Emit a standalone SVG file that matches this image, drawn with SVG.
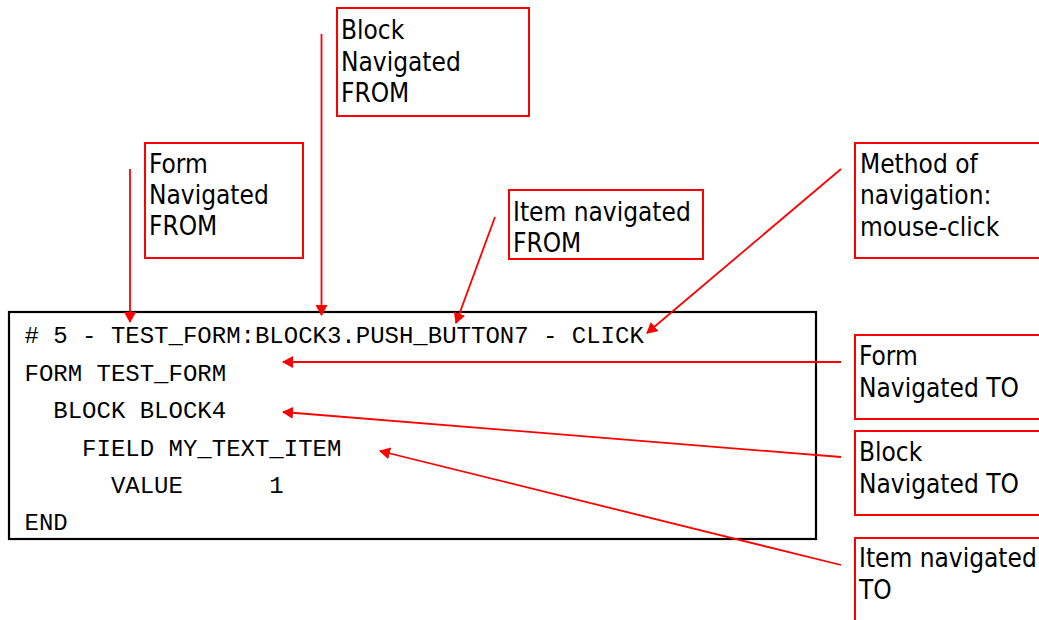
<svg xmlns="http://www.w3.org/2000/svg" width="1039" height="620" viewBox="0 0 1039 620">
  <style>
    .code { font-family: "Liberation Mono", "Courier New", monospace; font-size: 24px; fill: #000; white-space: pre; }
    .codebox { fill: #fff; stroke: #000; stroke-width: 2.2; }
    .label rect { fill: #fff; stroke: #ff0000; stroke-width: 2; }
    .label text { font-family: "DejaVu Sans Condensed", "DejaVu Sans", sans-serif; font-stretch: condensed; font-size: 26px; fill: #000; }
    .conn line { stroke: #ff0000; stroke-width: 1.8; marker-end: url(#head); }
  </style>
  <defs>
    <marker id="head" viewBox="0 0 11 12" markerWidth="11" markerHeight="12" refX="10" refY="6" orient="auto" markerUnits="userSpaceOnUse">
      <path d="M0,0 L11,6 L0,12 z" fill="#ff0000"/>
    </marker>
  </defs>
  <rect width="1039" height="620" fill="#fff"/>

  <!-- trace record -->
  <g id="trace">
    <rect class="codebox" x="9" y="312" width="807" height="227"/>
    <text class="code" x="24.5" y="343"># 5 - TEST_FORM:BLOCK3.PUSH_BUTTON7 - CLICK</text>
    <text class="code" x="24.5" y="381">FORM TEST_FORM</text>
    <text class="code" x="24.5" y="418">  BLOCK BLOCK4</text>
    <text class="code" x="24.5" y="456">    FIELD MY_TEXT_ITEM</text>
    <text class="code" x="24.5" y="493">      VALUE      1</text>
    <text class="code" x="24.5" y="530">END</text>
  </g>

  <!-- callout labels -->
  <g id="form-from" class="label">
    <rect x="145" y="143" width="158" height="115"/>
    <text x="149" y="173">Form</text>
    <text x="149" y="204">Navigated</text>
    <text x="149" y="235">FROM</text>
  </g>
  <g id="block-from" class="label">
    <rect x="337" y="8" width="192" height="108"/>
    <text x="341" y="39">Block</text>
    <text x="341" y="71">Navigated</text>
    <text x="341" y="102">FROM</text>
  </g>
  <g id="item-from" class="label">
    <rect x="509" y="190" width="194" height="69"/>
    <text x="513" y="221">Item navigated</text>
    <text x="513" y="252">FROM</text>
  </g>
  <g id="method" class="label">
    <rect x="855" y="143" width="200" height="115"/>
    <text x="860" y="173">Method of</text>
    <text x="860" y="204">navigation:</text>
    <text x="860" y="236">mouse-click</text>
  </g>
  <g id="form-to" class="label">
    <rect x="855" y="335" width="200" height="84"/>
    <text x="859" y="365">Form</text>
    <text x="859" y="397">Navigated TO</text>
  </g>
  <g id="block-to" class="label">
    <rect x="855" y="431" width="200" height="84"/>
    <text x="859" y="461">Block</text>
    <text x="859" y="493">Navigated TO</text>
  </g>
  <g id="item-to" class="label">
    <rect x="855" y="538" width="200" height="100"/>
    <text x="859" y="567">Item navigated</text>
    <text x="859" y="599">TO</text>
  </g>

  <!-- pointers -->
  <g id="connectors" class="conn">
    <line x1="130" y1="169" x2="130" y2="322"/>
    <line x1="321.5" y1="34" x2="321.5" y2="315"/>
    <line x1="495" y1="217" x2="456" y2="323"/>
    <line x1="841" y1="169" x2="647" y2="333"/>
    <line x1="841" y1="362" x2="283" y2="362"/>
    <line x1="841" y1="457" x2="283" y2="412"/>
    <line x1="841" y1="565" x2="380" y2="451"/>
  </g>
</svg>
